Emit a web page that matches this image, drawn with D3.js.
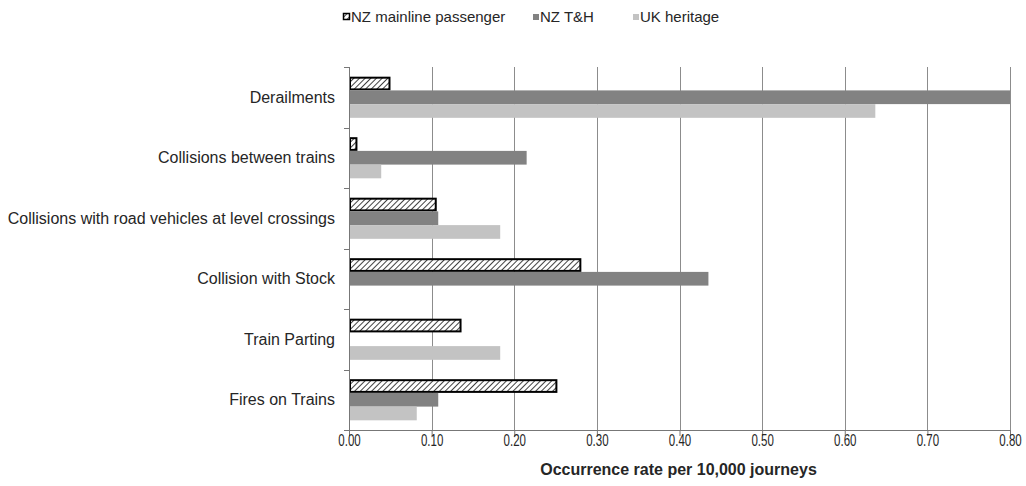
<!DOCTYPE html>
<html>
<head>
<meta charset="utf-8">
<script src="https://cdn.jsdelivr.net/npm/d3@7"></script>
<style>
  html, body { margin: 0; padding: 0; background: #fff; }
  svg { display: block; font-family: "Liberation Sans", Arial, sans-serif; }
</style>
</head>
<body>
<svg id="chart" width="1026" height="486"></svg>
<script>
// Occurrence rates per 10,000 journeys, by event type
const categories = [
  "Derailments",
  "Collisions between trains",
  "Collisions with road vehicles at level crossings",
  "Collision with Stock",
  "Train Parting",
  "Fires on Trains"
];
const seriesNames = ["NZ mainline passenger", "NZ T&H", "UK heritage"];
const nzMainline = [0.049, 0.009, 0.105, 0.280, 0.135, 0.251];
const nzTH       = [0.80,  0.215, 0.108, 0.435, 0.0,   0.108];
const ukHeritage = [0.637, 0.039, 0.183, 0.0,   0.183, 0.082];
const xTicks = [0, 0.1, 0.2, 0.3, 0.4, 0.5, 0.6, 0.7, 0.8];
const xTitle = "Occurrence rate per 10,000 journeys";

const seriesValues = [nzMainline, nzTH, ukHeritage];
const seriesFill = ["url(#hatch)", "#828282", "#c3c3c3"];
const textColor = "#262626";

const svg = d3.select("#chart");
const margin = { left: 349, right: 16, top: 67, bottom: 56 };
const W = 1026, H = 486;
const plotW = W - margin.left - margin.right;
const plotH = H - margin.top - margin.bottom;

// diagonal hatch for the NZ mainline bars
const defs = svg.append("defs");
const pat = defs.append("pattern")
  .attr("id", "hatch")
  .attr("patternUnits", "userSpaceOnUse")
  .attr("width", 4).attr("height", 4)
  .attr("patternTransform", "rotate(45)");
pat.append("rect").attr("width", 4).attr("height", 4).attr("fill", "#fff");
pat.append("line").attr("x1", 0).attr("y1", 0).attr("x2", 0).attr("y2", 4)
  .attr("stroke", "#111").attr("stroke-width", 1.6);

const g = svg.append("g").attr("transform", `translate(${margin.left},${margin.top})`);

const x = d3.scaleLinear().domain([0, 0.8]).range([0, plotW]);
const y0 = d3.scaleBand().domain(categories).range([0, plotH]).paddingInner(0.32).paddingOuter(0.16);
const y1 = d3.scaleBand().domain(seriesNames).range([0, y0.bandwidth()]);

// vertical gridlines
g.append("g").selectAll("line")
  .data(xTicks.filter(d => d > 0))
  .join("line")
  .attr("x1", d => Math.round(x(d)) + 0.5).attr("x2", d => Math.round(x(d)) + 0.5)
  .attr("y1", 0).attr("y2", plotH)
  .attr("stroke", "#8c8c8c").attr("stroke-width", 1);

// bars
const rows = categories.map((c, i) => ({ c, vals: seriesNames.map((s, k) => ({ s, k, v: seriesValues[k][i] })) }));
const grp = g.append("g").selectAll("g")
  .data(rows).join("g")
  .attr("transform", d => `translate(0,${y0(d.c)})`);

grp.selectAll("rect")
  .data(d => d.vals.filter(e => e.v > 0))
  .join("rect")
  .attr("x", e => e.k === 0 ? 1 : 0)
  .attr("y", e => y1(e.s) + (e.k === 0 ? 1 : 0))
  .attr("width", e => x(e.v) - (e.k === 0 ? 1 : 0))
  .attr("height", e => y1.bandwidth() - (e.k === 0 ? 2 : 0))
  .attr("fill", e => seriesFill[e.k])
  .attr("stroke", e => e.k === 0 ? "#000" : "none")
  .attr("stroke-width", 2);

// x axis
const xAxis = g.append("g")
  .attr("transform", `translate(0,${plotH})`)
  .call(d3.axisBottom(x).tickValues(xTicks).tickFormat(d3.format(".2f")).tickSize(6).tickSizeOuter(0));
xAxis.select(".domain").attr("stroke", "#777");
xAxis.selectAll(".tick line").attr("stroke", "#777");
xAxis.selectAll(".tick text")
  .attr("font-size", 16)
  .attr("fill", textColor)
  .attr("font-family", "'Liberation Sans', Arial, sans-serif")
  .attr("y", 5)
  .attr("dy", "0.71em")
  .attr("transform", "scale(0.72,1)");

// y axis with ticks at category boundaries
const yAxis = g.append("g");
yAxis.append("line").attr("x1", 0.5).attr("x2", 0.5).attr("y1", 0).attr("y2", plotH).attr("stroke", "#777");
const step = y0.step();
yAxis.selectAll("line.tk")
  .data(d3.range(categories.length + 1))
  .join("line").attr("class", "tk")
  .attr("x1", -5).attr("x2", 0)
  .attr("y1", i => Math.round(i * step) + 0.5).attr("y2", i => Math.round(i * step) + 0.5)
  .attr("stroke", "#777");
yAxis.selectAll("text")
  .data(categories)
  .join("text")
  .attr("x", -14)
  .attr("y", d => y0(d) + y0.bandwidth() / 2)
  .attr("dy", "0.35em")
  .attr("text-anchor", "end")
  .attr("font-size", 16)
  .attr("fill", textColor)
  .text(d => d);

// axis title
svg.append("text")
  .attr("x", margin.left + plotW / 2 - 1)
  .attr("y", 475)
  .attr("text-anchor", "middle")
  .attr("font-size", 16)
  .attr("font-weight", "bold")
  .attr("fill", textColor)
  .text(xTitle);

// legend
const legendX = [343, 532, 632];
const leg = svg.append("g").selectAll("g")
  .data(seriesNames).join("g")
  .attr("transform", (d, i) => `translate(${legendX[i]},17)`);
leg.append("rect")
  .attr("x", (d, i) => i === 0 ? 0.5 : 1)
  .attr("y", (d, i) => i === 0 ? -3.5 : -3)
  .attr("width", 6)
  .attr("height", 6)
  .attr("fill", (d, i) => seriesFill[i])
  .attr("stroke", (d, i) => i === 0 ? "#000" : "none")
  .attr("stroke-width", 1.5);
leg.append("text")
  .attr("x", 8)
  .attr("y", 0)
  .attr("dy", "0.35em")
  .attr("font-size", 15)
  .attr("fill", textColor)
  .text(d => d);
</script>
</body>
</html>
